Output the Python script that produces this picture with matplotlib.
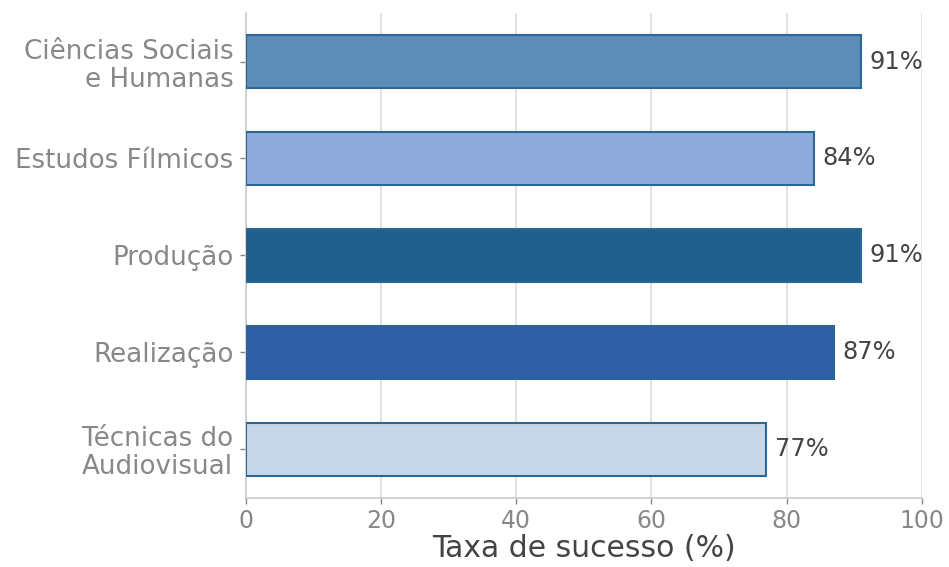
import matplotlib
matplotlib.use("Agg")
import matplotlib.pyplot as plt

plt.rcParams["font.family"] = ["DejaVu Sans"]

categories = ["Ciências Sociais\ne Humanas", "Estudos Fílmicos", "Produção", "Realização", "Técnicas do\nAudiovisual"]
values = [91, 84, 91, 87, 77]
colors = ["#5b8db8", "#8eaadb", "#1f5f8b", "#2e5fa6", "#c6d7ea"]
xticks = [0, 20, 40, 60, 80, 100]

fig = plt.figure(figsize=(9.49, 5.67), dpi=100)
ax = fig.add_axes([0.259, 0.122, 0.7125, 0.855])

ypos = list(range(len(categories)))
ax.barh(ypos, values, height=0.55, color=colors, edgecolor="#2c6694", linewidth=1.5, zorder=3)
for y, v in zip(ypos, values):
    ax.text(v + 1.2, y, f"{v}%", va="center", ha="left", fontsize=17.4, color="#444444", zorder=4)

ax.set_yticks(ypos)
ax.set_yticklabels(categories, fontsize=18.8, color="#888888", linespacing=1.1)
ax.set_ylim(len(categories) - 0.5, -0.5)
ax.set_xlim(0, 100)
ax.set_xticks(xticks)
ax.set_xticklabels([str(t) for t in xticks], fontsize=17, color="#888888")
ax.set_xlabel("Taxa de sucesso (%)", fontsize=21.5, color="#444444", labelpad=1)
ax.grid(axis="x", color="#dddddd", linewidth=1.2, zorder=0)
ax.grid(axis="y", visible=False)
for s in ["top", "right"]:
    ax.spines[s].set_visible(False)
for s in ["left", "bottom"]:
    ax.spines[s].set_color("#cccccc")
    ax.spines[s].set_linewidth(1.2)
ax.tick_params(axis="both", colors="#888888", length=4, width=1)
ax.tick_params(axis="y", pad=5)
ax.tick_params(axis="x", pad=4)
ax.tick_params(axis="x", labelcolor="#888888")
ax.tick_params(axis="y", labelcolor="#888888")

fig.savefig("out.png", dpi=100)
